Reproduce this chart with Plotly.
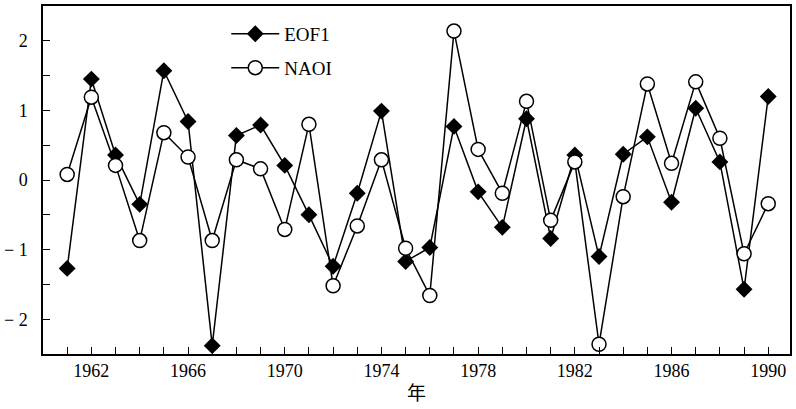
import plotly.graph_objects as go

years = list(range(1961, 1991))
eof1 = [-1.27, 1.45, 0.36, -0.35, 1.57, 0.84, -2.38, 0.64, 0.79, 0.21,
        -0.50, -1.24, -0.19, 0.99, -1.17, -0.97, 0.77, -0.17, -0.68, 0.88,
        -0.84, 0.36, -1.10, 0.37, 0.62, -0.32, 1.03, 0.26, -1.57, 1.20]
naoi = [0.08, 1.19, 0.21, -0.87, 0.68, 0.33, -0.87, 0.29, 0.16, -0.71,
        0.80, -1.52, -0.66, 0.29, -0.98, -1.66, 2.14, 0.44, -0.19, 1.13,
        -0.58, 0.26, -2.36, -0.24, 1.38, 0.24, 1.41, 0.60, -1.06, -0.34]
x_tick_vals = [1962, 1966, 1970, 1974, 1978, 1982, 1986, 1990]
x_tick_text = ["1962", "1966", "1970", "1974", "1978", "1982", "1986", "1990"]
y_tick_vals = [-2, -1, 0, 1, 2]
y_tick_text = ["\u2212 2", "\u2212 1", "0", "1", "2"]

SERIF = "Liberation Serif"

fig = go.Figure()
fig.add_trace(go.Scatter(
    x=years, y=eof1, name="EOF1", mode="lines+markers",
    line=dict(color="black", width=1.5),
    marker=dict(symbol="diamond", size=13, color="black"),
    legend="legend", showlegend=True,
))
fig.add_trace(go.Scatter(
    x=years, y=naoi, name="NAOI", mode="lines+markers",
    line=dict(color="black", width=1.5),
    marker=dict(symbol="circle", size=14, color="white",
                line=dict(color="black", width=1.5)),
    legend="legend2", showlegend=True,
))

legend_common = dict(
    xanchor="left", yanchor="middle",
    bgcolor="rgba(0,0,0,0)", borderwidth=0,
    font=dict(family=SERIF, size=19, color="black"),
    itemwidth=48, visible=True,
)
fig.update_layout(
    width=796, height=409,
    margin=dict(l=42, r=4, t=5, b=55),
    paper_bgcolor="white", plot_bgcolor="white",
    font=dict(family=SERIF, size=18, color="black"),
    showlegend=True,
    legend=dict(x=(226 - 42) / 750, y=1 - (33 - 5) / 349, **legend_common),
    legend2=dict(x=(226 - 42) / 750, y=1 - (67 - 5) / 349, **legend_common),
    xaxis=dict(
        range=[1960, 1990.9],
        tickmode="array", tickvals=x_tick_vals, ticktext=x_tick_text,
        ticks="inside", ticklen=7, tickwidth=1.2, tickcolor="black",
        minor=dict(tickmode="linear", tick0=1960, dtick=1, ticks="inside",
                   ticklen=7, tickwidth=1.2, tickcolor="black"),
        showline=True, linecolor="black", linewidth=1.5, mirror=True,
        showgrid=False, zeroline=False,
        tickfont=dict(family=SERIF, size=18, color="black"),
        title=dict(text="年", font=dict(family="Noto Sans CJK SC", size=19, color="black"),
                   standoff=6),
    ),
    yaxis=dict(
        range=[-2.5, 2.5],
        tickmode="array", tickvals=y_tick_vals, ticktext=y_tick_text,
        ticks="inside", ticklen=7, tickwidth=1.2, tickcolor="black",
        minor=dict(tickmode="linear", tick0=0, dtick=0.5, ticks="inside",
                   ticklen=7, tickwidth=1.2, tickcolor="black"),
        showline=True, linecolor="black", linewidth=1.5, mirror=True,
        showgrid=False, zeroline=False,
        tickfont=dict(family=SERIF, size=18, color="black"),
        ticklabelstandoff=10,
    ),
)

fig.write_html("out.html")
